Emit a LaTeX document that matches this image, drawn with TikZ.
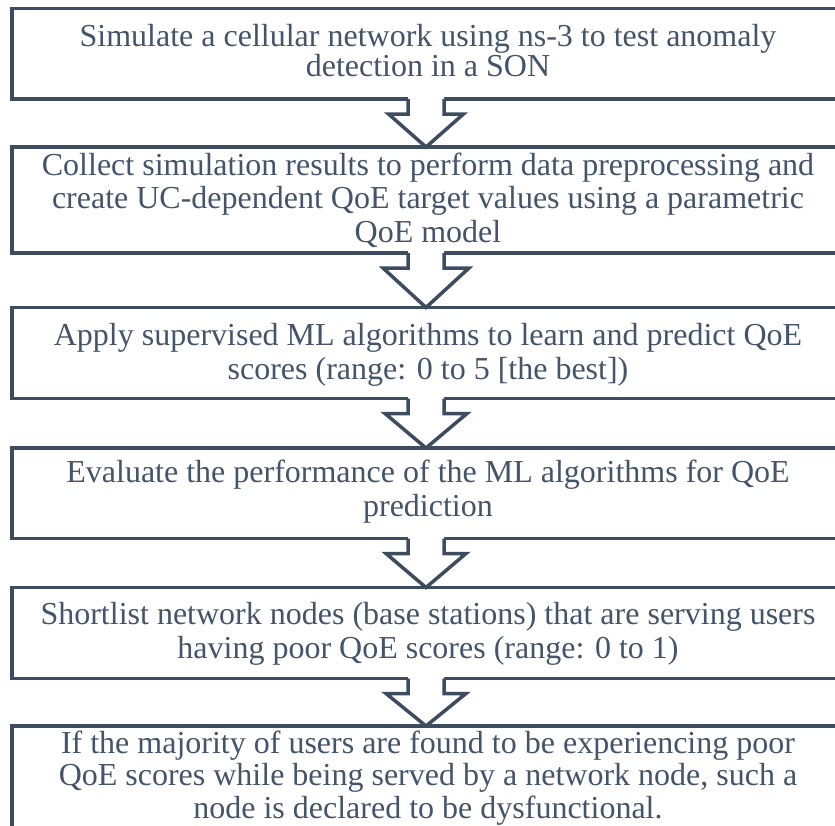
\documentclass[tikz,border=0pt]{standalone}
\usepackage{fontspec}
\setmainfont{Liberation Serif}
\usetikzlibrary{calc}
\definecolor{slate}{HTML}{44546A}
\definecolor{slateline}{HTML}{3E4C60}
\tikzset{
  stepbox/.style={draw=slateline, line width=3.5pt, rectangle, inner sep=0pt,
    outer sep=0pt, minimum width=828pt},
  steptext/.style={text=slate, align=center, inner sep=0pt, anchor=base,
    font=\fontsize{32pt}{33.5pt}\selectfont},
  tightlines/.style={font=\fontsize{32pt}{#1}\selectfont},
  arrowline/.style={draw=slateline, line width=3.5pt, line join=miter},
}
% hollow block arrow from the bottom edge of one box to the top edge of the next
\newcommand\flowarrow[3]{%
  \fill[white] ($(#1.south)+(-18,-2.5)$) -- ($(#1.south)+(-18,15)$)
    -- ($(#1.south)+(-#3,15)$) -- (#2.north) -- ($(#1.south)+(#3,15)$)
    -- ($(#1.south)+(18,15)$) -- ($(#1.south)+(18,-2.5)$) -- cycle;
  \draw[arrowline] ($(#1.south)+(-18,0)$) -- ($(#1.south)+(-18,15)$)
    -- ($(#1.south)+(-#3,15)$) -- (#2.north) -- ($(#1.south)+(#3,15)$)
    -- ($(#1.south)+(18,15)$) -- ($(#1.south)+(18,0)$);
}
\begin{document}
\begin{tikzpicture}[x=1pt, y=-1pt]
\useasboundingbox (0,0) rectangle (835,825);
\fill[white] (0,0) rectangle (835,825);

% boxes
\node[stepbox, minimum height=90.5pt] (b1) at (426,53.75) {};
\node[stepbox, minimum height=106pt]  (b2) at (426,200) {};
\node[stepbox, minimum height=91pt]   (b3) at (426,353) {};
\node[stepbox, minimum height=90.5pt] (b4) at (426,493.25) {};
\node[stepbox, minimum height=91pt]   (b5) at (426,633) {};
\node[stepbox, minimum height=150pt]  (b6) at (426,801) {};

% arrows
\flowarrow{b1}{b2}{37.5}
\flowarrow{b2}{b3}{43}
\flowarrow{b3}{b4}{41}
\flowarrow{b4}{b5}{40}
\flowarrow{b5}{b6}{40}

% texts (anchored at the baseline of the last line)
\node[steptext, tightlines=29.5pt] (t1) at (428,76) {Simulate a cellular network using ns-3 to test anomaly\\detection in a SON};
\node[steptext] (t2) at (428,242) {Collect simulation results to perform data preprocessing and\\create UC-dependent QoE target values using a parametric\\QoE model};
\node[steptext] (t3) at (428,379) {Apply supervised ML algorithms to learn and predict QoE\\scores (range: 0 to 5 [the best])};
\node[steptext] (t4) at (428,516) {Evaluate the performance of the ML algorithms for QoE\\prediction};
\node[steptext] (t5) at (428,658) {Shortlist network nodes (base stations) that are serving users\\having poor QoE scores (range: 0 to 1)};
\node[steptext, tightlines=32.5pt] (t6) at (428,818) {If the majority of users are found to be experiencing poor\\QoE scores while being served by a network node, such a\\node is declared to be dysfunctional.};
\end{tikzpicture}
\end{document}
